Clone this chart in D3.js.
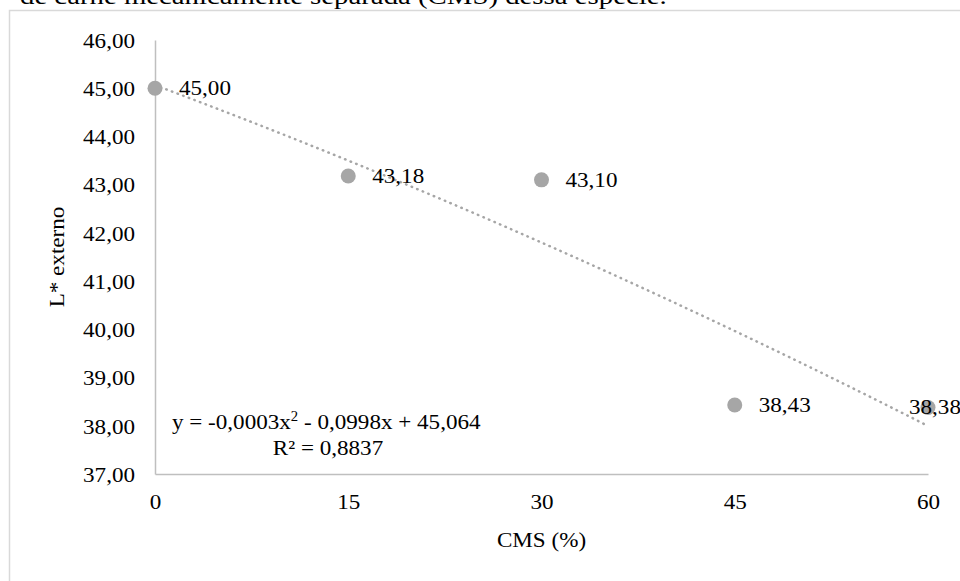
<!DOCTYPE html>
<html>
<head>
<meta charset="utf-8">
<script src="https://cdn.jsdelivr.net/npm/d3@7"></script>
<style>
  html, body { margin: 0; padding: 0; background: #fff; }
  svg text { font-family: "Liberation Serif", "Times New Roman", serif; fill: #000; }
</style>
</head>
<body>
<svg id="chart" width="960" height="581"></svg>
<script>
// CMS level (%) and L* externo means
const cmsLevels = [0, 15, 30, 45, 60];
const lValues = [45.00, 43.18, 43.10, 38.43, 38.38];
const yTicks = [37, 38, 39, 40, 41, 42, 43, 44, 45, 46];
const xTicks = [0, 15, 30, 45, 60];
// quadratic trend: y = a*x^2 + b*x + c
const trendCoef = { a: -0.0003, b: -0.0998, c: 45.064 };
const rSquared = 0.8837;
const captionText = "de carne mecanicamente separada (CMS) dessa espécie.";

// Portuguese number format: decimal comma, plain hyphen minus
const ptBR = d3.formatLocale({ decimal: ",", thousands: ".", grouping: [3], currency: ["", ""], minus: "-" });
const fmt2 = ptBR.format(".2f");
const fmt3 = ptBR.format(".3f");
const fmt4 = ptBR.format(".4f");

const svg = d3.select("#chart");
const SX = 1.05; // slight glyph widening for the serif labels
const FS = 22;

function label(g, x, y, text, anchor, size, sx) {
  return g.append("text")
    .attr("transform", `translate(${x},${y}) scale(${sx || SX},1)`)
    .attr("font-size", size || FS)
    .attr("text-anchor", anchor || "start")
    .text(text);
}

// caption line above the chart frame (partly cut by the page top)
label(svg, 20, 4, captionText, "start", 24, 1.2);

// chart frame
svg.append("rect")
  .attr("x", 9.5).attr("y", 10.5)
  .attr("width", 1000).attr("height", 700)
  .attr("fill", "#fff")
  .attr("stroke", "#d9d9d9").attr("stroke-width", 1.5);

const x = d3.scaleLinear().domain([0, 60]).range([155, 928]);
const y = d3.scaleLinear().domain([37, 46]).range([474, 40]);

// axes
const yAxis = svg.append("g").attr("transform", `translate(${x(0)},0)`)
  .call(d3.axisLeft(y).tickValues(yTicks).tickSize(0).tickPadding(20).tickFormat(fmt2));
const xAxis = svg.append("g").attr("transform", `translate(0,${y(37)})`)
  .call(d3.axisBottom(x).tickValues(xTicks).tickSize(0).tickPadding(20).tickFormat(d3.format("d")));
[yAxis, xAxis].forEach(a => {
  a.select(".domain").attr("stroke", "#bfbfbf").attr("stroke-width", 1.5);
  a.selectAll("text")
    .attr("font-size", FS)
    .attr("font-family", "Liberation Serif, Times New Roman, serif")
    .attr("fill", "#000");
});
yAxis.selectAll(".tick text").attr("transform", `scale(${SX},1)`).attr("dy", "0.33em")
  .attr("x", -20 / SX);
xAxis.selectAll(".tick text").attr("transform", `scale(${SX},1)`).attr("dy", "0.7em").attr("x", 0);

// axis titles
label(svg, (x(0) + x(60)) / 2, 547, "CMS (%)", "middle");
svg.append("text")
  .attr("transform", `translate(64,${(y(37) + y(46)) / 2}) rotate(-90) scale(${SX},1)`)
  .attr("font-size", FS).attr("text-anchor", "middle")
  .text("L* externo");

// dotted quadratic trendline
const trendX = d3.range(0, 60.01, 1);
const trendLine = d3.line()
  .x(d => x(d))
  .y(d => y(trendCoef.a * d * d + trendCoef.b * d + trendCoef.c));
svg.append("path")
  .datum(trendX)
  .attr("d", trendLine)
  .attr("fill", "none")
  .attr("stroke", "#a6a6a6")
  .attr("stroke-width", 2.5)
  .attr("stroke-linecap", "round")
  .attr("stroke-dasharray", "0.5 5.5");

// points
const pts = cmsLevels.map((c, i) => ({ c, v: lValues[i] }));
svg.append("g").selectAll("circle").data(pts).join("circle")
  .attr("cx", d => x(d.c)).attr("cy", d => y(d.v))
  .attr("r", 7.5).attr("fill", "#a6a6a6");

// value labels (the last one is pulled left so it stays inside the page)
pts.forEach((d, i) => {
  const lx = i === pts.length - 1 ? x(d.c) - 19 : x(d.c) + 24;
  label(svg, lx, y(d.v) + 7, fmt2(d.v));
});

// equation and R²
const eq = svg.append("text")
  .attr("transform", `translate(172,429) scale(${SX},1)`)
  .attr("font-size", FS);
eq.append("tspan").text("y = " + fmt4(trendCoef.a) + "x");
eq.append("tspan").attr("font-size", 14).attr("dy", -8).text("2");
eq.append("tspan").attr("dy", 8).text(" - " + fmt4(-trendCoef.b) + "x + " + fmt3(trendCoef.c));
label(svg, 328, 455, "R² = " + fmt4(rSquared), "middle");
</script>
</body>
</html>
